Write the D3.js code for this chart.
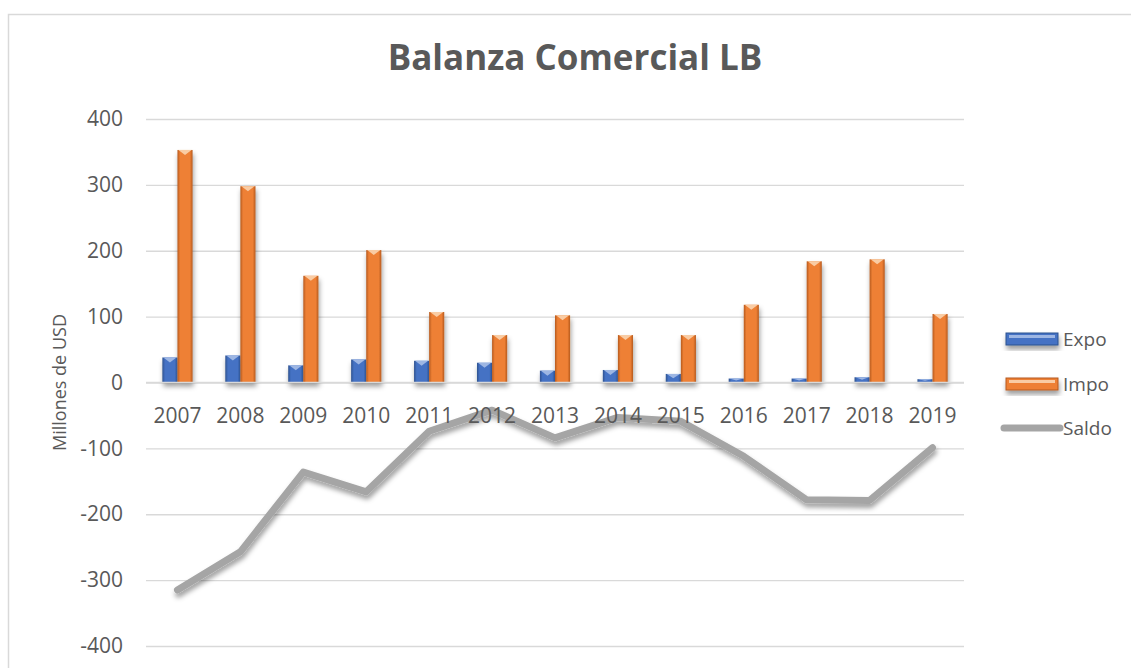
<!DOCTYPE html>
<html>
<head>
<meta charset="utf-8">
<script src="https://cdn.jsdelivr.net/npm/d3@7"></script>
<style>
  body { margin: 0; background: #fff; }
  svg { display: block; font-family: "Open Sans", Lato, sans-serif; }
</style>
</head>
<body>
<svg id="chart" width="1131" height="668"></svg>
<script>
// Data
var years = ["2007", "2008", "2009", "2010", "2011", "2012", "2013", "2014", "2015", "2016", "2017", "2018", "2019"];
var expo  = [38, 41, 26, 35, 33, 30, 18, 19, 13, 6, 6, 8, 5];
var impo  = [353, 298, 162, 201, 107, 72, 102, 72, 72, 118, 184, 187, 104];
var saldo = [-315, -257, -136, -166, -74, -42, -84, -53, -59, -112, -178, -179, -99];
var yTicks = [-400, -300, -200, -100, 0, 100, 200, 300, 400];
var seriesNames = ["Expo", "Impo"];

(function() {
    var svg = d3.select("#chart");

    // plot area
    var plotLeft = 146, plotRight = 964, plotTop = 119, plotBottom = 646;

    var x = d3.scaleBand().domain(years).range([plotLeft, plotRight]).padding(0);
    var bw = x.bandwidth();
    var x1 = d3.scaleBand().domain(seriesNames).range([bw * 0.26, bw * 0.74]).padding(0);
    var y = d3.scaleLinear().domain([-400, 400]).range([plotBottom, plotTop]);

    var colors = {
        Expo: { base: "#4472C4", dark: "#2F528F", light: "#9DB6E3" },
        Impo: { base: "#EE8035", dark: "#B65A1E", light: "#F9CCA4" }
    };

    var defs = svg.append("defs");

    // bevel-ish look for bars
    seriesNames.forEach(function(s) {
        var g = defs.append("linearGradient")
            .attr("id", "grad-" + s)
            .attr("x1", "0").attr("x2", "1").attr("y1", "0").attr("y2", "0");
        g.append("stop").attr("offset", "0%").attr("stop-color", colors[s].dark);
        g.append("stop").attr("offset", "18%").attr("stop-color", colors[s].base);
        g.append("stop").attr("offset", "82%").attr("stop-color", colors[s].base);
        g.append("stop").attr("offset", "100%").attr("stop-color", colors[s].dark);
    });

    var shadow = defs.append("filter").attr("id", "shadow")
        .attr("x", "-50%").attr("y", "-50%").attr("width", "200%").attr("height", "200%");
    shadow.append("feDropShadow")
        .attr("dx", 1).attr("dy", 4).attr("stdDeviation", 2.5)
        .attr("flood-color", "#000").attr("flood-opacity", 0.38);

    // chart border
    svg.append("rect")
        .attr("x", 8.5).attr("y", 14.5)
        .attr("width", 1140).attr("height", 680)
        .attr("fill", "none")
        .attr("stroke", "#D9D9D9")
        .attr("stroke-width", 1.5);

    // title
    svg.append("text")
        .attr("x", 575).attr("y", 70)
        .attr("text-anchor", "middle")
        .attr("font-size", 35)
        .attr("font-weight", "bold")
        .attr("fill", "#595959")
        .text("Balanza Comercial LB");

    // gridlines
    var grid = svg.append("g")
        .attr("class", "grid")
        .attr("transform", "translate(" + plotLeft + ",0)")
        .call(d3.axisLeft(y).tickValues(yTicks).tickSize(-(plotRight - plotLeft)).tickFormat(""));
    grid.select(".domain").remove();
    grid.selectAll("line").attr("stroke", "#D9D9D9").attr("stroke-width", 1.3);

    // y tick labels (plain hyphen for negatives, like the reference)
    var yAxis = svg.append("g")
        .attr("transform", "translate(" + (plotLeft - 21) + ",0)")
        .call(d3.axisLeft(y).tickValues(yTicks).tickSize(0).tickPadding(2)
            .tickFormat(function(d) { return String(d); }));
    yAxis.select(".domain").remove();
    yAxis.selectAll("text")
        .attr("font-family", "'Open Sans', Lato, sans-serif")
        .attr("font-size", 21)
        .attr("fill", "#595959");

    // y axis title
    svg.append("text")
        .attr("transform", "translate(66," + ((plotTop + plotBottom) / 2) + ") rotate(-90)")
        .attr("text-anchor", "middle")
        .attr("font-size", 18)
        .attr("fill", "#595959")
        .text("Millones de USD");

    // bars
    var bars = svg.append("g").attr("filter", "url(#shadow)");
    var barData = [];
    years.forEach(function(yr, i) {
        barData.push({ year: yr, series: "Expo", value: expo[i] });
        barData.push({ year: yr, series: "Impo", value: impo[i] });
    });

    var bar = bars.selectAll("g.bar")
        .data(barData)
        .enter()
        .append("g")
        .attr("class", "bar")
        .attr("transform", function(d) {
            return "translate(" + (x(d.year) + x1(d.series)) + ",0)";
        });

    bar.append("rect")
        .attr("x", 0)
        .attr("width", x1.bandwidth())
        .attr("y", function(d) { return y(d.value); })
        .attr("height", function(d) { return y(0) - y(d.value); })
        .attr("fill", function(d) { return "url(#grad-" + d.series + ")"; });

    // light bevel on top of each bar
    bar.append("path")
        .attr("d", function(d) {
            var w = x1.bandwidth();
            var t = y(d.value);
            var h = Math.min(5, (y(0) - t) / 2);
            return "M1," + t + "L" + (w - 1) + "," + t + "L" + (w / 2) + "," + (t + h) + "Z";
        })
        .attr("fill", function(d) { return colors[d.series].light; });

    // zero line
    svg.append("line")
        .attr("x1", plotLeft).attr("x2", plotRight)
        .attr("y1", y(0)).attr("y2", y(0))
        .attr("stroke", "#D9D9D9")
        .attr("stroke-width", 1.5);

    // saldo line
    var saldoLine = d3.line()
        .x(function(d, i) { return x(years[i]) + bw / 2; })
        .y(function(d) { return y(d); });

    svg.append("path")
        .datum(saldo)
        .attr("d", saldoLine)
        .attr("fill", "none")
        .attr("stroke", "#A5A5A5")
        .attr("stroke-width", 7)
        .attr("stroke-linecap", "round")
        .attr("stroke-linejoin", "round")
        .attr("filter", "url(#shadow)");

    // category labels
    svg.append("g").selectAll("text")
        .data(years)
        .enter()
        .append("text")
        .attr("x", function(d) { return x(d) + bw / 2; })
        .attr("y", y(0) + 40)
        .attr("text-anchor", "middle")
        .attr("font-size", 21)
        .attr("fill", "#595959")
        .text(function(d) { return d; });

    // legend
    var legend = svg.append("g").attr("transform", "translate(1006,0)");
    var legendItems = [
        { name: "Expo", type: "bar", cy: 339 },
        { name: "Impo", type: "bar", cy: 384 },
        { name: "Saldo", type: "line", cy: 428 }
    ];
    legendItems.forEach(function(d) {
        if (d.type === "bar") {
            var g = legend.append("g").attr("filter", "url(#shadow)");
            g.append("rect")
                .attr("x", 0).attr("y", d.cy - 6)
                .attr("width", 52).attr("height", 12)
                .attr("fill", colors[d.name].base)
                .attr("stroke", colors[d.name].dark)
                .attr("stroke-width", 1);
            g.append("rect")
                .attr("x", 3).attr("y", d.cy - 4)
                .attr("width", 46).attr("height", 3)
                .attr("fill", colors[d.name].light);
        } else {
            legend.append("line")
                .attr("x1", -2).attr("x2", 54)
                .attr("y1", d.cy).attr("y2", d.cy)
                .attr("stroke", "#A5A5A5")
                .attr("stroke-width", 7)
                .attr("stroke-linecap", "round");
        }
        legend.append("text")
            .attr("x", 57)
            .attr("y", d.cy)
            .attr("dy", "0.35em")
            .attr("font-size", 19)
            .attr("fill", "#595959")
            .text(d.name);
    });
})();
</script>
</body>
</html>
